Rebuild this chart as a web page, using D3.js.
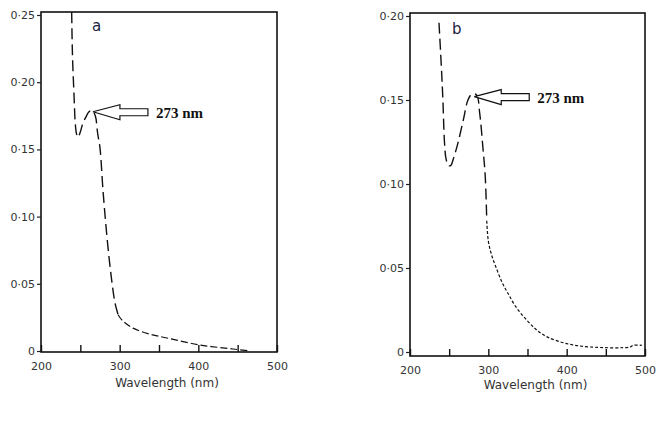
<!DOCTYPE html>
<html>
<head>
<meta charset="utf-8">
<script src="https://cdn.jsdelivr.net/npm/d3@7"></script>
<style>
  body { margin: 0; background: #fff; }
  svg text { font-family: "DejaVu Sans", sans-serif; }
</style>
</head>
<body>
<div id="chart"></div>
<script>
// panel a
const waveA = [239, 240, 242, 243.5, 245, 247, 250, 253, 257, 261, 265, 269, 272, 275, 279, 285, 290, 294, 298, 303, 317, 338, 360, 402, 444, 466];
const absA = [0.252, 0.22, 0.19, 0.17, 0.162, 0.159, 0.163, 0.169, 0.174, 0.178, 0.179, 0.175, 0.162, 0.151, 0.118, 0.078, 0.052, 0.036, 0.027, 0.023, 0.017, 0.0126, 0.0097, 0.0045, 0.0015, 0.0];
// panel b
const waveB = [237, 240, 242, 244, 246, 249, 252, 256, 261, 268, 274, 279, 285, 289, 293, 296, 298, 300, 304, 311, 318, 325, 335, 349, 362, 375, 400, 430, 481, 485, 496];
const absB = [0.196, 0.17, 0.15, 0.125, 0.115, 0.111, 0.111, 0.116, 0.124, 0.138, 0.15, 0.1535, 0.153, 0.142, 0.122, 0.105, 0.078, 0.066, 0.058, 0.049, 0.041, 0.035, 0.027, 0.019, 0.013, 0.009, 0.005, 0.003, 0.003, 0.004, 0.004];

const xTicks = [200, 250, 300, 350, 400, 450, 500];
const yTicksA = [0, 0.05, 0.1, 0.15, 0.2, 0.25];
const yLabelsA = ["0", "0·05", "0·10", "0·15", "0·20", "0·25"];
const yTicksB = [0, 0.05, 0.1, 0.15, 0.2];
const yLabelsB = ["0", "0·05", "0·10", "0·15", "0·20"];

const width = 657;
const height = 421;

const svg = d3.select("#chart").append("svg")
  .attr("width", width)
  .attr("height", height);

function drawPanel(p) {
  const x = d3.scaleLinear().domain([200, 500]).range([p.left, p.right]);
  const y = d3.scaleLinear().domain([0, p.yMax]).range([p.zeroY, p.topY]);
  const g = svg.append("g");

  // frame
  g.append("rect")
    .attr("x", p.left).attr("y", p.frameTop)
    .attr("width", p.right - p.left).attr("height", p.frameBottom - p.frameTop)
    .attr("fill", "none").attr("stroke", "#111").attr("stroke-width", 1.6);

  // x axis (ticks point inward)
  const xAxis = d3.axisBottom(x)
    .tickValues(xTicks)
    .tickSizeInner(-7).tickSizeOuter(0)
    .tickPadding(10)
    .tickFormat(d => d % 100 === 0 ? d : "");
  g.append("g")
    .attr("transform", `translate(0,${p.frameBottom})`)
    .call(xAxis)
    .call(s => s.select(".domain").remove())
    .call(s => s.selectAll("line").attr("stroke", "#111").attr("stroke-width", 1.4))
    .call(s => s.selectAll("text").attr("fill", "#333").style("font-size", "11px"));

  // y axis
  const yAxis = d3.axisLeft(y)
    .tickValues(p.yTicks)
    .tickSize(4)
    .tickPadding(2)
    .tickFormat((d, i) => p.yLabels[i]);
  g.append("g")
    .attr("transform", `translate(${p.left},0)`)
    .call(yAxis)
    .call(s => s.select(".domain").remove())
    .call(s => s.selectAll("line").attr("stroke", "#222").attr("stroke-width", 1.2))
    .call(s => s.selectAll("text").attr("fill", "#333").style("font-size", "11px"));

  // curve, split into a long-dash part and a tail
  const pts = p.wave.map((w, i) => [w, p.abs[i]]);
  const head = pts.slice(0, p.split + 1);
  const tail = pts.slice(p.split);
  const lineY = d3.line().x(d => x(d[0])).y(d => y(d[1])).curve(d3.curveCatmullRom);
  g.append("path").datum(head)
    .attr("d", lineY)
    .attr("fill", "none").attr("stroke", "#111").attr("stroke-width", 1.4)
    .attr("stroke-dasharray", "11,5");
  g.append("path").datum(tail)
    .attr("d", lineY)
    .attr("fill", "none").attr("stroke", "#111").attr("stroke-width", 1.2)
    .attr("stroke-dasharray", p.tailDash);

  // panel letter
  g.append("text")
    .attr("x", p.letterX).attr("y", p.letterY)
    .attr("fill", "#1d2340")
    .style("font-size", "15px")
    .text(p.letter);

  // arrow pointing at the peak
  const tx = x(p.arrowWave), ty = y(p.arrowAbs);
  const hb = tx + 27, se = tx + 55;
  const arrow = [
    [tx, ty], [hb, ty - 7], [hb, ty - 3], [se, ty - 3],
    [se, ty + 4], [hb, ty + 4], [hb, ty + 8], [tx, ty]
  ];
  g.append("path")
    .attr("d", d3.line()(arrow))
    .attr("fill", "#fff").attr("stroke", "#111").attr("stroke-width", 1.2);
  g.append("text")
    .attr("x", se + 8).attr("y", ty + 6)
    .attr("fill", "#111")
    .style("font-family", "'Liberation Serif', serif")
    .style("font-weight", "bold")
    .style("font-size", "15px")
    .text("273 nm");

  // axis title
  g.append("text")
    .attr("x", (p.left + p.right) / 2 + 8).attr("y", p.titleY)
    .attr("text-anchor", "middle")
    .attr("fill", "#333")
    .style("font-size", "12px")
    .text("Wavelength (nm)");
}

drawPanel({
  left: 41, right: 277, zeroY: 351, topY: 15, yMax: 0.25,
  frameTop: 12, frameBottom: 352,
  wave: waveA, abs: absA, split: 18, tailDash: "7,3",
  yTicks: yTicksA, yLabels: yLabelsA,
  letter: "a", letterX: 92, letterY: 31,
  arrowWave: 266, arrowAbs: 0.178,
  titleY: 387
});

drawPanel({
  left: 410, right: 645, zeroY: 352, topY: 16, yMax: 0.2,
  frameTop: 13, frameBottom: 356,
  wave: waveB, abs: absB, split: 16, tailDash: "3,2",
  yTicks: yTicksB, yLabels: yLabelsB,
  letter: "b", letterX: 452, letterY: 34,
  arrowWave: 282, arrowAbs: 0.152,
  titleY: 389
});
</script>
</body>
</html>
